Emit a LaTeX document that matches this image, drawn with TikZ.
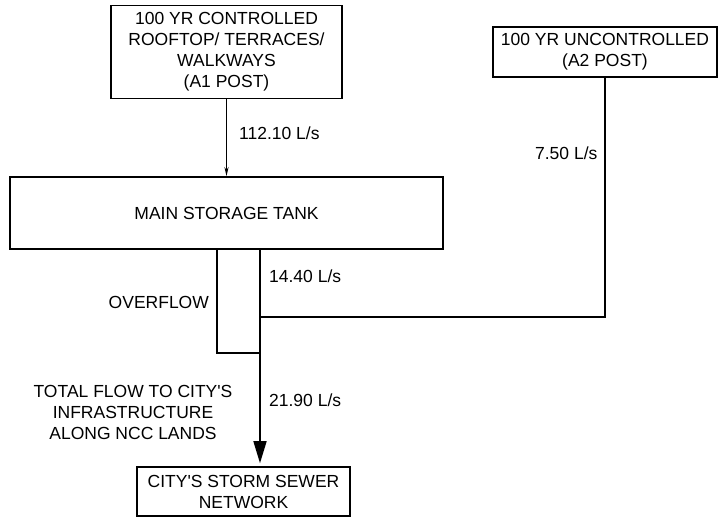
\documentclass[tikz,border=0pt]{standalone}
\usepackage{fontspec}
\setmainfont{Liberation Sans}
\usetikzlibrary{arrows.meta,positioning}
\begin{document}
\begin{tikzpicture}[x=1pt,y=-1pt,
    line width=1.6pt,
    every node/.style={font=\fontsize{17.5}{21}\selectfont},
    box/.style={draw, align=center, inner sep=0pt}]
    \useasboundingbox (0,0) rectangle (719,519);

    \node[box, minimum width=231, minimum height=93] (A1) at (226.5,52)
        {100 YR CONTROLLED\\ROOFTOP/ TERRACES/\\WALKWAYS\\(A1 POST)};
    \node[box, minimum width=224, minimum height=50] (A2) at (605,52)
        {100 YR UNCONTROLLED\\(A2 POST)};
    \node[box, minimum width=433, minimum height=72] (T) at (226.5,213)
        {MAIN STORAGE TANK};
    \node[box, minimum width=213, minimum height=49] (S) at (243.5,491.5)
        {CITY\textquotesingle S STORM SEWER\\NETWORK};

    \coordinate (O) at (260,249);
    \coordinate (J) at (260,317);
    \coordinate (F) at (217,249);

    \draw[-{Stealth[length=9pt,width=4pt]}] (A1.south) -- (A1.south |- T.north);
    \draw (A2.south) |- (J);
    \draw (F) -- ++(0,104) -| (O);
    \draw[-{Triangle[length=22pt,width=13pt]}, shorten >=3pt] (O) -- (O |- S.north);

    \node[right] at (235,133) {112.10 L/s};
    \node[right] at (531,153) {7.50 L/s};
    \node[right] at (265,276) {14.40 L/s};
    \node[left] at (213,302) {OVERFLOW};
    \node[right] at (265,400) {21.90 L/s};
    \node[align=center] at (133,412)
        {TOTAL FLOW TO CITY\textquotesingle S\\INFRASTRUCTURE\\ALONG NCC LANDS};
\end{tikzpicture}
\end{document}
